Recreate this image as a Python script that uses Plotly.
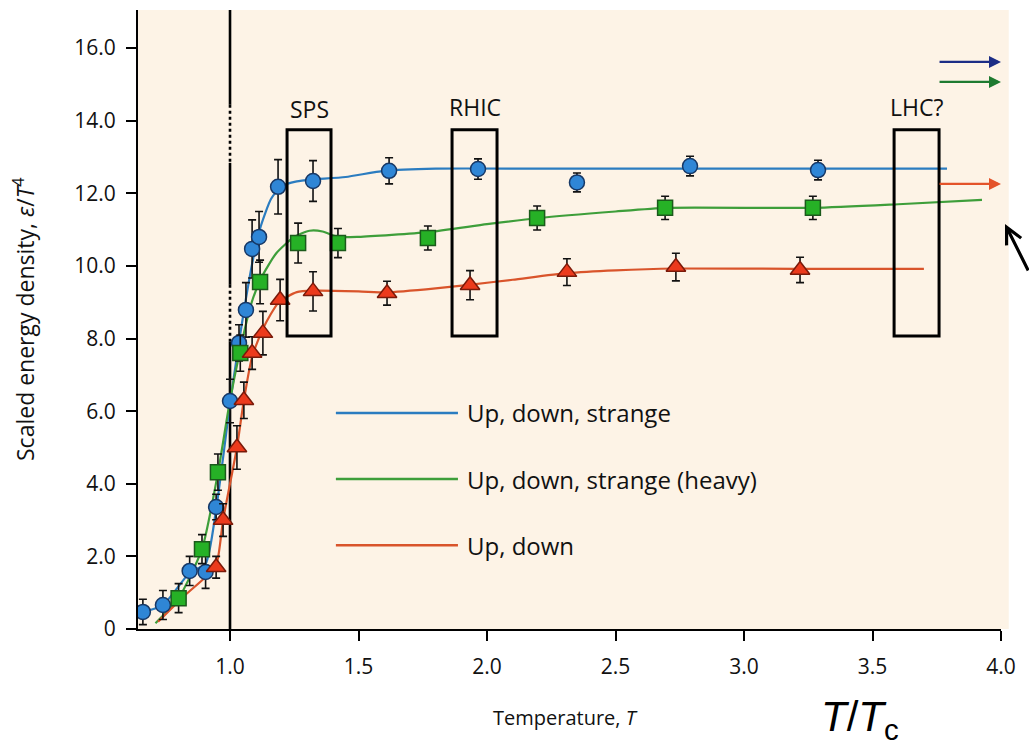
import plotly.graph_objects as go

# ---------------- data ----------------
# measured points: Up, down, strange (blue circles)
blue_x = [0.661, 0.739, 0.843, 0.905, 0.946, 1.0, 1.035, 1.062, 1.086, 1.113, 1.187, 1.323, 1.619, 1.965, 2.35, 2.79, 3.288]
blue_y = [0.47, 0.66, 1.6, 1.57, 3.36, 6.28, 7.88, 8.79, 10.47, 10.8, 12.18, 12.34, 12.62, 12.67, 12.3, 12.75, 12.64]
blue_err = [0.35, 0.4, 0.4, 0.45, 0.35, 0.6, 0.5, 0.75, 0.8, 0.7, 0.75, 0.56, 0.36, 0.28, 0.26, 0.27, 0.27]

# Up, down, strange (heavy) (green squares)
green_x = [0.80, 0.891, 0.953, 1.04, 1.117, 1.265, 1.42, 1.77, 2.195, 2.693, 3.268]
green_y = [0.85, 2.2, 4.32, 7.6, 9.56, 10.63, 10.63, 10.77, 11.32, 11.6, 11.6]
green_err = [0.4, 0.4, 0.5, 0.5, 0.6, 0.55, 0.4, 0.33, 0.33, 0.32, 0.32]

# Up, down (red triangles)
red_x = [0.946, 0.973, 1.027, 1.054, 1.086, 1.128, 1.195, 1.323, 1.611, 1.934, 2.311, 2.735, 3.218]
red_y = [1.7, 3.0, 5.0, 6.3, 7.6, 8.15, 9.06, 9.3, 9.25, 9.47, 9.83, 9.97, 9.89]
red_err = [0.3, 0.45, 0.6, 0.5, 0.45, 0.6, 0.57, 0.54, 0.33, 0.4, 0.37, 0.38, 0.35]

# smooth theory curves
blue_curve_x = [0.661, 0.739, 0.843, 0.905, 0.946, 1.0, 1.035, 1.062, 1.09, 1.12, 1.16, 1.20, 1.26, 1.32, 1.45, 1.6, 1.8, 2.2, 2.8, 3.3, 3.79]
blue_curve_y = [0.47, 0.66, 1.55, 1.8, 3.3, 6.2, 7.9, 9.1, 10.2, 11.1, 11.85, 12.2, 12.33, 12.38, 12.45, 12.62, 12.68, 12.68, 12.68, 12.68, 12.68]

green_curve_x = [0.71, 0.80, 0.891, 0.953, 1.0, 1.04, 1.08, 1.12, 1.18, 1.25, 1.31, 1.36, 1.42, 1.5, 1.77, 2.0, 2.2, 2.5, 2.7, 3.27, 3.6, 3.926]
green_curve_y = [0.16, 0.85, 2.2, 4.3, 6.3, 7.7, 8.9, 9.65, 10.35, 10.8, 10.97, 10.95, 10.8, 10.8, 10.93, 11.15, 11.32, 11.5, 11.6, 11.6, 11.7, 11.82]

red_curve_x = [0.72, 0.82, 0.90, 0.946, 0.973, 1.0, 1.027, 1.054, 1.086, 1.13, 1.19, 1.26, 1.33, 1.5, 1.61, 1.8, 1.93, 2.1, 2.31, 2.5, 2.73, 3.2, 3.7]
red_curve_y = [0.2, 0.9, 1.4, 1.75, 3.0, 4.0, 5.0, 6.3, 7.5, 8.3, 9.0, 9.28, 9.32, 9.3, 9.27, 9.38, 9.48, 9.62, 9.8, 9.88, 9.93, 9.92, 9.92]

# collider windows (x-range, y-range) and labels
box_names = ["SPS", "RHIC", "LHC?"]
box_x0 = [1.222, 1.864, 3.584]
box_x1 = [1.393, 2.039, 3.759]
box_y0 = [8.07, 8.07, 8.07]
box_y1 = [13.75, 13.75, 13.75]
box_label_y = [14.33, 14.37, 14.37]

# limit arrows (Stefan-Boltzmann limits) at the right
limit_y = [15.62, 15.07, 12.26]
limit_x0 = 3.755
limit_x1 = 4.0

legend_names = ["Up, down, strange", "Up, down, strange (heavy)", "Up, down"]
legend_y = [5.95, 4.13, 2.31]

y_ticks = [0, 2, 4, 6, 8, 10, 12, 14, 16]
y_ticktext = ["0", "2.0", "4.0", "6.0", "8.0", "10.0", "12.0", "14.0", "16.0"]
x_ticks = [1.0, 1.5, 2.0, 2.5, 3.0, 3.5, 4.0]
x_ticktext = ["1.0", "1.5", "2.0", "2.5", "3.0", "3.5", "4.0"]

X_RANGE = [0.642, 4.0]
Y_RANGE = [0, 17.05]

# ---------------- style ----------------
BG = "#FDF3E6"
FONT = "Open Sans"
line_cols = ["#2B7CC0", "#3E9E3A", "#D9542B"]
fill_cols = ["#2F86D6", "#26B126", "#EC3A1C"]
edge_cols = ["#173866", "#1B5A1B", "#7A1A0A"]
arrow_cols = ["#1C2D86", "#1E7A30", "#E4532A"]

fig = go.Figure()

curves = [(blue_curve_x, blue_curve_y), (green_curve_x, green_curve_y), (red_curve_x, red_curve_y)]
for (cx, cy), col in zip(curves, line_cols):
    fig.add_trace(go.Scatter(x=cx, y=cy, mode="lines",
                             line=dict(color=col, width=2.2, shape="spline", smoothing=0.6),
                             showlegend=False, hoverinfo="skip"))

pts = [(blue_x, blue_y, blue_err, "circle", 15),
       (green_x, green_y, green_err, "square", 15),
       (red_x, red_y, red_err, "triangle-up", 17)]
for i, (px, py, pe, sym, sz) in enumerate(pts):
    fig.add_trace(go.Scatter(x=px, y=py, mode="markers",
                             error_y=dict(type="data", array=pe, visible=True, color="#111111",
                                          thickness=1.6, width=4),
                             marker=dict(symbol=sym, size=sz, color=fill_cols[i],
                                         line=dict(color=edge_cols[i], width=1.5)),
                             showlegend=False, hoverinfo="skip"))

shapes = []
# background extension right of the axis end
shapes.append(dict(type="rect", xref="paper", yref="paper", x0=1.0, x1=1.009, y0=0, y1=1,
                   fillcolor=BG, line=dict(width=0), layer="below"))
# vertical line at T = Tc (solid with dotted gaps)
seg = [(17.05, 14.44, "solid"), (14.44, 12.84, "dot"), (12.84, 9.48, "solid"),
       (9.48, 7.91, "dot"), (7.91, 0, "solid")]
for a, b, d in seg:
    shapes.append(dict(type="line", xref="x", yref="y", x0=1.0, x1=1.0, y0=a, y1=b,
                       line=dict(color="black", width=2.6, dash=d), layer="below"))
# collider boxes
for x0, x1, y0, y1 in zip(box_x0, box_x1, box_y0, box_y1):
    shapes.append(dict(type="rect", xref="x", yref="y", x0=x0, x1=x1, y0=y0, y1=y1,
                       line=dict(color="black", width=3), fillcolor="rgba(0,0,0,0)"))
# legend lines
for ly, col in zip(legend_y, line_cols):
    shapes.append(dict(type="line", xref="x", yref="y", x0=1.412, x1=1.887, y0=ly, y1=ly,
                       line=dict(color=col, width=2.5)))

annotations = []
for name, x0, x1, ly in zip(box_names, box_x0, box_x1, box_label_y):
    annotations.append(dict(x=(x0 + x1) / 2, y=ly, xref="x", yref="y", text=name, showarrow=False,
                            font=dict(family=FONT, size=23, color="#111111"),
                            xanchor="center", yanchor="middle"))
for ly, name in zip(legend_y, legend_names):
    annotations.append(dict(x=1.915, y=ly, xref="x", yref="y", text=name, showarrow=False,
                            font=dict(family=FONT, size=24, color="#111111"),
                            xanchor="left", yanchor="middle"))
for ly, col in zip(limit_y, arrow_cols):
    annotations.append(dict(x=limit_x1, y=ly, ax=limit_x0, ay=ly, xref="x", yref="y",
                            axref="x", ayref="y", text="", showarrow=True,
                            arrowhead=2, arrowsize=1.0, arrowwidth=2.4, arrowcolor=col))

# axis titles and extra labels (positions in paper units)
PL, PR, PT, PB = 138, 1001, 10, 629
def px2paper(x, y):
    return (x - PL) / (PR - PL), (PB - y) / (PB - PT)

tx, ty = px2paper(24, 320)
annotations.append(dict(x=tx, y=ty, xref="paper", yref="paper",
                        text="Scaled energy density, <i>ε</i>/<i>T</i><sup>4</sup>",
                        textangle=-90, showarrow=False, xanchor="center", yanchor="middle",
                        font=dict(family=FONT, size=23, color="#111111")))
tx, ty = px2paper(565, 717)
annotations.append(dict(x=tx, y=ty, xref="paper", yref="paper", text="Temperature, <i>T</i>",
                        showarrow=False, xanchor="center", yanchor="middle",
                        font=dict(family=FONT, size=20, color="#111111")))
tx, ty = px2paper(860, 719)
annotations.append(dict(x=tx, y=ty, xref="paper", yref="paper",
                        text="<i>T</i>/<i>T</i><sub>c</sub>",
                        showarrow=False, xanchor="center", yanchor="middle",
                        font=dict(family="Liberation Sans", size=42, color="black")))
tx, ty = px2paper(1005, 224)
annotations.append(dict(x=tx, y=ty, xref="paper", yref="paper", text="", showarrow=True,
                        ax=32, ay=48, arrowhead=5, arrowsize=1.0, arrowwidth=3.2,
                        arrowcolor="black"))

fig.update_layout(
    width=1029, height=748,
    margin=dict(l=PL, r=1029 - PR, t=PT, b=748 - PB),
    paper_bgcolor="white", plot_bgcolor=BG,
    shapes=shapes, annotations=annotations,
    showlegend=False,
    font=dict(family=FONT, size=20, color="#111111"),
)
fig.update_xaxes(range=X_RANGE, tickvals=x_ticks, ticktext=x_ticktext,
                 showline=True, linecolor="black", linewidth=2, mirror=False,
                 ticks="outside", ticklen=10, tickwidth=2, tickcolor="black",
                 showgrid=False, zeroline=False, ticklabelstandoff=8,
                 tickfont=dict(family=FONT, size=21, color="#111111"))
fig.update_yaxes(range=Y_RANGE, tickvals=y_ticks, ticktext=y_ticktext,
                 showline=True, linecolor="black", linewidth=2, mirror=False,
                 ticks="outside", ticklen=10, tickwidth=2, tickcolor="black",
                 showgrid=False, zeroline=False, ticklabelstandoff=6,
                 tickfont=dict(family=FONT, size=21, color="#111111"))

fig.write_html("out.html")
